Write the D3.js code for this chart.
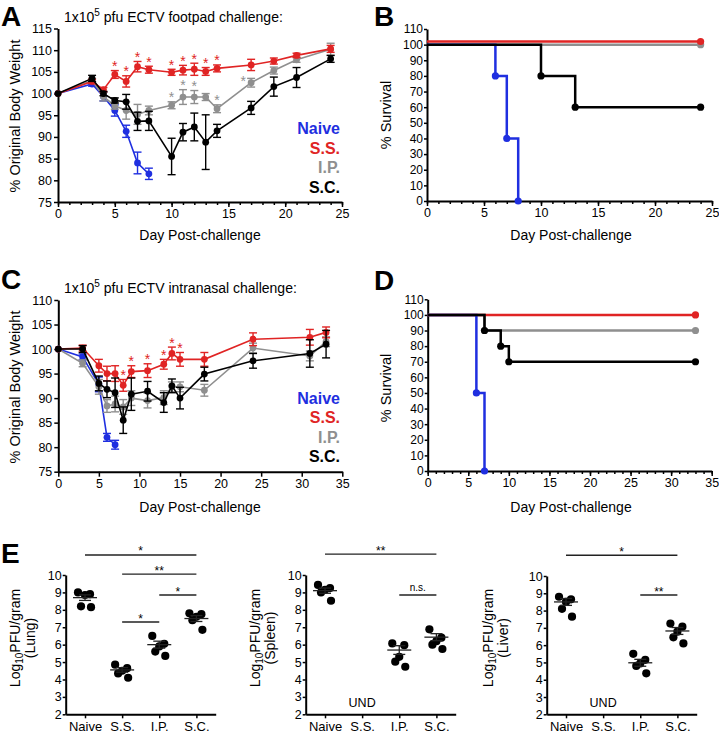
<!DOCTYPE html>
<html><head><meta charset="utf-8">
<script src="https://cdn.jsdelivr.net/npm/d3@7"></script>
<style>body{margin:0;background:#fff}svg{display:block;font-family:"Liberation Sans",Arial,Helvetica,sans-serif}</style>
</head><body><svg id="c" width="719" height="733"></svg>
<script>
// ---------- DATA ----------
const groups = ["Naive","S.S.","I.P.","S.C."];
const colors = ["#1f2fe0","#e02424","#8f8f8f","#000000"];

// Panel A: footpad challenge, % original body weight
const fpDaysNaive = [0,3,4,5,6,7,8];
const fpNaive     = [100,102.2,99.3,96.1,91.3,84.0,81.5];
const fpNaiveErr  = [0,0.5,1.0,1.3,1.4,2.5,1.3];
const fpDays  = [0,3,4,5,6,7,8,10,11,12,13,14,17,19,21,24];
const fpSS    = [100,102.8,100.9,104.4,102.8,106.2,105.5,104.9,105.4,105.6,105.1,105.8,106.6,107.5,108.8,110.3];
const fpSSErr = [0,0.5,0.5,0.9,1.3,1.2,0.8,0.7,1.1,1.4,0.9,0.8,1.3,0.7,0.5,0.8];
const fpIP    = [100,103.0,99.3,97.2,96.1,95.2,96.1,97.3,99.2,99.2,99.2,96.5,102.5,105.3,107.8,110.2];
const fpIPErr = [0,0.5,1.0,0.8,2.0,2.3,1.0,0.8,1.7,1.5,0.8,0.9,1.0,0.8,0.6,1.4];
const fpSC    = [100,103.5,100.0,98.4,98.1,93.6,93.7,85.5,91.1,92.3,88.8,91.4,96.7,101.6,103.7,108.0];
const fpSCErr = [0,0.7,0.5,0.6,1.7,2.1,2.2,4.2,2.0,3.2,6.3,1.5,1.5,2.2,2.3,0.8];
const fpStarsSS = [5,6,7,8,10,11,12,13,14];
const fpStarsIP = [10,11,12,14,17];

// Panel B: footpad survival (%)
const fpSurvNaiveDays = [0,6,7,8],  fpSurvNaive = [100,80,40,0];
const fpSurvSSDays    = [0,24],     fpSurvSS    = [102,102];
const fpSurvIPDays    = [0,24],     fpSurvIP    = [100,100];
const fpSurvSCDays    = [0,10,13,24], fpSurvSC  = [100,80,60,60];

// Panel C: intranasal challenge, % original body weight
const inDaysNaive = [0,3,5,6,7];
const inNaive     = [100,98.4,92.8,82.0,80.5];
const inNaiveErr  = [0,0.6,1.5,0.8,0.9];
const inDays  = [0,3,5,6,7,8,9,11,13,14,15,18,24,31,33];
const inSS    = [100,100.2,96.6,95.0,95.0,92.6,95.4,95.6,96.9,99.1,97.9,97.9,102.0,102.4,103.4];
const inSSErr = [0,0.6,1.3,1.5,1.6,1.2,1.2,1.4,1.0,1.3,1.4,1.4,1.3,1.6,1.1];
const inIP    = [100,97.1,92.3,88.4,88.8,88.2,90.0,89.5,90.1,92.3,92.3,91.6,100.2,98.6,101.5];
const inIPErr = [0,0.7,1.5,1.3,1.6,1.5,1.5,1.5,1.4,1.0,1.0,1.2,1.0,1.0,1.0];
const inSC    = [100,100.0,93.0,91.8,91.1,85.5,90.8,91.4,89.1,92.5,90.0,94.9,97.6,99.1,101.0];
const inSCErr = [0,0.7,1.5,1.7,3.0,2.7,3.3,2.0,2.0,1.4,2.2,1.4,1.5,2.8,2.8];
const inStarsSS = [8,9,11,13,14,15];

// Panel D: intranasal survival (%)
const inSurvNaiveDays = [0,6,7],  inSurvNaive = [100,50,0];
const inSurvSSDays    = [0,33],   inSurvSS    = [100,100];
const inSurvIPDays    = [0,7,33], inSurvIP    = [100,90,90];
const inSurvSCDays    = [0,7,9,10,33], inSurvSC = [100,90,80,70,70];

// Panel E: Log10 PFU/gram (null = UND)
const lungPts   = [[9.0,8.9,8.85,8.2,8.15],[4.85,4.65,4.5,4.35,4.1],[6.5,6.05,5.9,5.6,5.35],[7.8,7.75,7.6,7.4,6.85]];
const lungMean  = [8.7,4.55,6.0,7.5];
const lungSem   = [0.16,0.13,0.2,0.17];
const lungSig   = [["Naive","S.C.",11.15,"*"],["S.S.","S.C.",10.05,"**"],["I.P.","S.C.",8.85,"*"],["S.S.","I.P.",7.3,"*"]];
const spleenPts  = [[9.43,9.25,9.15,9.0,8.52],null,[6.07,5.97,5.3,5.02,4.73],[6.88,6.4,6.2,6.0,5.75]];
const spleenMean = [9.1,null,5.69,6.43];
const spleenSem  = [0.15,null,0.25,0.2];
const spleenSig  = [["Naive","S.C.",11.2,"**"],["I.P.","S.C.",8.85,"n.s."]];
const liverPts   = [[8.8,8.65,8.5,8.1,7.65],null,[5.5,5.15,4.94,4.8,4.37],[7.25,7.07,6.78,6.45,6.1]];
const liverMean  = [8.5,null,4.98,6.82];
const liverSem   = [0.2,null,0.2,0.2];
const liverSig   = [["Naive","S.C.",11.2,"*"],["I.P.","S.C.",8.9,"**"]];

// ---------- DRAWING ----------
const svg = d3.select("#c");

function styleAxis(g, fs){
  g.select(".domain").attr("stroke","#000").attr("stroke-width",2);
  g.selectAll(".tick line").attr("stroke","#000").attr("stroke-width",1.5);
  g.selectAll(".tick text").attr("fill","#000").attr("font-size",fs).attr("font-family",null);
}
function panelLetter(t,x,y){
  svg.append("text").attr("x",x).attr("y",y).attr("font-size",28).attr("font-weight","bold").text(t);
}
function title(x,y,pre,sup,post){
  const t = svg.append("text").attr("x",x).attr("y",y).attr("font-size",14);
  t.append("tspan").text(pre);
  t.append("tspan").attr("font-size",10).attr("dy",-6).text(sup);
  t.append("tspan").attr("dy",6).text(post);
}
function yLabel(txt,cx,cy,fs){
  svg.append("text").attr("transform",`translate(${cx},${cy}) rotate(-90)`).attr("text-anchor","middle")
    .attr("dy","0.35em").attr("font-size",fs).text(txt);
}
function xLabel(txt,cx,y){
  svg.append("text").attr("x",cx).attr("y",y).attr("text-anchor","middle").attr("font-size",14).text(txt);
}

function weightPanel(c){
  const x = d3.scaleLinear().domain([0,c.xMax]).range(c.xr);
  const y = d3.scaleLinear().domain(c.yd).range(c.yr);
  const g = svg.append("g");
  if (c.minor){
    const m = g.append("g").attr("transform",`translate(0,${c.yr[0]})`)
      .call(d3.axisBottom(x).tickValues(d3.range(0,c.xMax+1,1)).tickSize(3).tickFormat(""));
    m.select(".domain").remove(); m.selectAll("line").attr("stroke","#000").attr("stroke-width",1.5);
  }
  const xa = g.append("g").attr("transform",`translate(0,${c.yr[0]})`)
    .call(d3.axisBottom(x).tickValues(d3.range(0,c.xMax+1,5)).tickSize(5).tickSizeOuter(0).tickPadding(2));
  styleAxis(xa,12.5);
  const ya = g.append("g").attr("transform",`translate(${c.xr[0]},0)`)
    .call(d3.axisLeft(y).tickValues(d3.range(c.yd[0],c.yd[1]+0.01,5)).tickSize(4).tickSizeOuter(0).tickPadding(2));
  styleAxis(ya,12.5);
  const line = d3.line().x(p=>x(p.d)).y(p=>y(p.v));
  c.series.forEach(s=>{
    const pts = s.days.map((d,i)=>({d:d,v:s.vals[i],e:s.err[i]}));
    const sg = g.append("g");
    sg.append("path").datum(pts).attr("d",line).attr("fill","none").attr("stroke",s.color).attr("stroke-width",1.6);
    const eb = sg.selectAll(".eb").data(pts.filter(p=>p.e>0)).join("g").attr("stroke",s.color).attr("stroke-width",1.4);
    eb.append("line").attr("x1",p=>x(p.d)).attr("x2",p=>x(p.d)).attr("y1",p=>y(p.v-p.e)).attr("y2",p=>y(p.v+p.e));
    eb.append("line").attr("x1",p=>x(p.d)-4).attr("x2",p=>x(p.d)+4).attr("y1",p=>y(p.v+p.e)).attr("y2",p=>y(p.v+p.e));
    eb.append("line").attr("x1",p=>x(p.d)-4).attr("x2",p=>x(p.d)+4).attr("y1",p=>y(p.v-p.e)).attr("y2",p=>y(p.v-p.e));
    sg.selectAll("circle").data(pts).join("circle").attr("cx",p=>x(p.d)).attr("cy",p=>y(p.v)).attr("r",3.4).attr("fill",s.color);
    if (s.stars){
      s.stars.forEach(d=>{
        const i = s.days.indexOf(d);
        const side = (c.sideStar && c.sideStar(s,d)) || 0;
        sg.append("text").attr("x",x(d)-side).attr("y",y(s.vals[i]+s.err[i])+0.5+side*0.9)
          .attr("text-anchor","middle").attr("font-size",14).attr("fill",s.color).text("*");
      });
    }
  });
  c.legend.forEach((t,i)=>{
    g.append("text").attr("x",340).attr("y",c.legY+i*c.legStep).attr("text-anchor","end")
      .attr("font-size",16).attr("font-weight","bold").attr("fill",colors[i]).text(t);
  });
}

function survPanel(c){
  const x = d3.scaleLinear().domain([0,c.xMax]).range(c.xr);
  const y = d3.scaleLinear().domain([0,110]).range(c.yr);
  const g = svg.append("g");
  const m = g.append("g").attr("transform",`translate(0,${c.yr[0]})`)
    .call(d3.axisBottom(x).tickValues(d3.range(0,c.xMax+1,1)).tickSize(3).tickFormat(""));
  m.select(".domain").remove(); m.selectAll("line").attr("stroke","#000").attr("stroke-width",1.5);
  const xa = g.append("g").attr("transform",`translate(0,${c.yr[0]})`)
    .call(d3.axisBottom(x).tickValues(d3.range(0,c.xMax+1,5)).tickSize(5).tickSizeOuter(0).tickPadding(2));
  styleAxis(xa,12.5);
  const ya = g.append("g").attr("transform",`translate(${c.xr[0]},0)`)
    .call(d3.axisLeft(y).tickValues(d3.range(0,111,10)).tickSize(3).tickSizeOuter(0).tickPadding(1));
  styleAxis(ya,12);
  const line = d3.line().x(p=>x(p.d)).y(p=>y(p.v)).curve(d3.curveStepAfter);
  c.series.forEach(s=>{
    const pts = s.days.map((d,i)=>({d:d,v:s.vals[i]}));
    g.append("path").datum(pts).attr("d",line).attr("fill","none").attr("stroke",s.color).attr("stroke-width",2.5);
    g.selectAll(null).data(pts.filter(p=>p.d>0)).join("circle").attr("cx",p=>x(p.d)).attr("cy",p=>y(p.v)).attr("r",3.6).attr("fill",s.color);
  });
}

function scatterPanel(c){
  const x = d3.scalePoint().domain(groups).range([c.ax,c.ax+150]).padding(0.52);
  const y = d3.scaleLinear().domain([2,10]).range(c.yr);
  const g = svg.append("g");
  const xa = g.append("g").attr("transform",`translate(0,${c.yr[0]})`)
    .call(d3.axisBottom(x).tickSize(4).tickSizeOuter(0).tickPadding(3));
  styleAxis(xa,13);
  const ya = g.append("g").attr("transform",`translate(${c.ax},0)`)
    .call(d3.axisLeft(y).tickValues(d3.range(2,11,1)).tickSize(3).tickSizeOuter(0).tickPadding(1));
  styleAxis(ya,12.5);
  const jit = [-7,5,0,-4,6];
  c.pts.forEach((arr,gi)=>{
    const cx = x(groups[gi]);
    if (!arr){
      g.append("text").attr("x",cx).attr("y",y(2.7)+4.5).attr("text-anchor","middle").attr("font-size",12.5).text("UND");
      return;
    }
    g.selectAll(null).data(arr).join("circle").attr("cx",(v,i)=>cx+jit[i]).attr("cy",v=>y(v)).attr("r",4.1).attr("fill","#000");
    const mu = c.mean[gi], se = c.sem[gi];
    const lg = g.append("g").attr("stroke","#222").attr("stroke-width",1.3);
    lg.append("line").attr("x1",cx-12).attr("x2",cx+12).attr("y1",y(mu)).attr("y2",y(mu));
    lg.append("line").attr("x1",cx).attr("x2",cx).attr("y1",y(mu-se)).attr("y2",y(mu+se));
    [mu-se,mu+se].forEach(v=>lg.append("line").attr("x1",cx-6).attr("x2",cx+6).attr("y1",y(v)).attr("y2",y(v)));
  });
  c.sig.forEach(s=>{
    const x1 = x(s[0]), x2 = x(s[1]), yy = y(s[2]);
    g.append("line").attr("x1",x1).attr("x2",x2).attr("y1",yy).attr("y2",yy).attr("stroke","#222").attr("stroke-width",1.3);
    const ns = s[3]==="n.s.";
    g.append("text").attr("x",(x1+x2)/2).attr("y",ns?yy-4:yy+0.5).attr("text-anchor","middle")
      .attr("font-size",ns?10:12).text(s[3]);
  });
  const t = svg.append("text").attr("transform",`translate(${c.lx},638) rotate(-90)`).attr("text-anchor","middle").attr("font-size",14);
  t.append("tspan").text("Log");
  t.append("tspan").attr("font-size",10).attr("dy",3).text("10");
  t.append("tspan").attr("dy",-3).text("PFU/gram");
  svg.append("text").attr("transform",`translate(${c.lx+14.5},638) rotate(-90)`).attr("text-anchor","middle").attr("font-size",14).text(c.organ);
}

// Panel A
panelLetter("A",1,26);
title(64,22,"1x10","5"," pfu ECTV footpad challenge:");
weightPanel({xMax:25,xr:[58,342],yd:[75,115],yr:[202,28.5],minor:true,legY:134,legStep:19.6,legend:groups,
  sideStar:(s,d)=> (s.color===colors[2] && d===17) ? 8 : 0,
  series:[
    {days:fpDaysNaive,vals:fpNaive,err:fpNaiveErr,color:colors[0]},
    {days:fpDays,vals:fpIP,err:fpIPErr,color:colors[2],stars:fpStarsIP},
    {days:fpDays,vals:fpSS,err:fpSSErr,color:colors[1],stars:fpStarsSS},
    {days:fpDays,vals:fpSC,err:fpSCErr,color:colors[3]}
  ]});
yLabel("% Original Body Weight",15,116,14.5);
xLabel("Day Post-challenge",200,240);

// Panel B
panelLetter("B",374,26);
survPanel({xMax:25,xr:[427,712],yr:[201,29],series:[
  {days:fpSurvIPDays,vals:fpSurvIP,color:colors[2]},
  {days:fpSurvNaiveDays,vals:fpSurvNaive,color:colors[0]},
  {days:fpSurvSSDays,vals:fpSurvSS,color:colors[1]},
  {days:fpSurvSCDays,vals:fpSurvSC,color:colors[3]}
]});
yLabel("% Survival",386,115,14.5);
xLabel("Day Post-challenge",571,240);

// Panel C
panelLetter("C",1,289);
title(64,293,"1x10","5"," pfu ECTV intranasal challenge:");
weightPanel({xMax:35,xr:[58.3,342.3],yd:[75,110],yr:[471.7,300],minor:false,legY:404,legStep:19.3,legend:groups,
  series:[
    {days:inDaysNaive,vals:inNaive,err:inNaiveErr,color:colors[0]},
    {days:inDays,vals:inIP,err:inIPErr,color:colors[2]},
    {days:inDays,vals:inSS,err:inSSErr,color:colors[1],stars:inStarsSS},
    {days:inDays,vals:inSC,err:inSCErr,color:colors[3]}
  ]});
yLabel("% Original Body Weight",15,387,14.5);
xLabel("Day Post-challenge",200,512);

// Panel D
panelLetter("D",374,290);
survPanel({xMax:35,xr:[427.7,711.7],yr:[471,299.3],series:[
  {days:inSurvIPDays,vals:inSurvIP,color:colors[2]},
  {days:inSurvSSDays,vals:inSurvSS,color:colors[1]},
  {days:inSurvNaiveDays,vals:inSurvNaive,color:colors[0]},
  {days:inSurvSCDays,vals:inSurvSC,color:colors[3]}
]});
yLabel("% Survival",386,388,14.5);
xLabel("Day Post-challenge",571,512);

// Panel E
panelLetter("E",1,563);
scatterPanel({ax:65.7,yr:[714.3,575],pts:lungPts,mean:lungMean,sem:lungSem,sig:lungSig,lx:20,organ:"(Lung)"});
scatterPanel({ax:305.7,yr:[714.3,575],pts:spleenPts,mean:spleenMean,sem:spleenSem,sig:spleenSig,lx:260,organ:"(Spleen)"});
scatterPanel({ax:546.7,yr:[714.3,576],pts:liverPts,mean:liverMean,sem:liverSem,sig:liverSig,lx:493,organ:"(Liver)"});
</script></body></html>
